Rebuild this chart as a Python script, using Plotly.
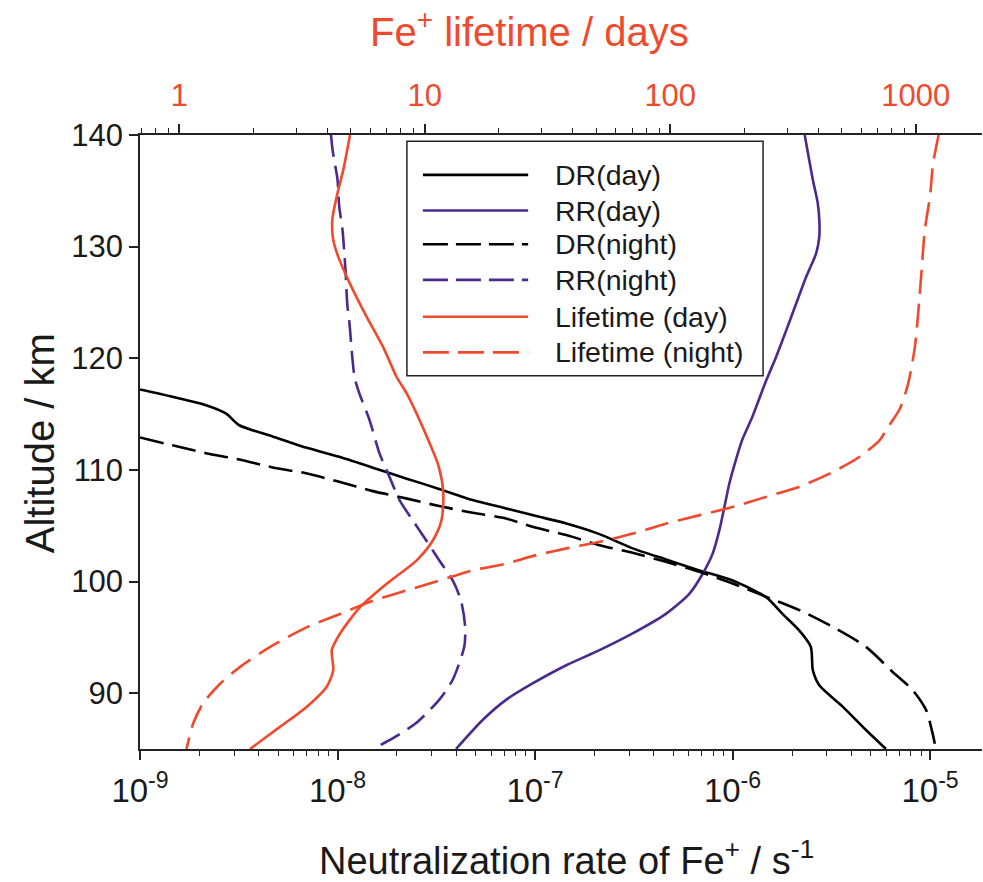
import plotly.graph_objects as go

# ---------------- data ----------------
dr_day_alt = [117.2, 116.55, 115.8, 115.06, 114.0, 113.0, 112.0, 111.17, 110.2, 109.24, 108.3, 107.3,
              106.55, 105.8, 105.2, 104.25, 102.97, 101.98, 101.0, 100.1, 98.6, 97.1, 95.6, 94.15,
              92.06, 90.7, 88.8, 86.7, 85.0]
dr_day = [1.0e-9, 1.46e-9, 2.16e-9, 2.72e-9, 3.18e-9, 4.69e-9, 6.93e-9, 1.02e-8, 1.51e-8, 2.22e-8,
          3.27e-8, 4.83e-8, 7.13e-8, 1.05e-7, 1.44e-7, 2.12e-7, 3.12e-7, 4.60e-7, 6.79e-7, 1.0e-6,
          1.48e-6, 1.79e-6, 2.18e-6, 2.49e-6, 2.55e-6, 2.75e-6, 3.61e-6, 4.74e-6, 5.98e-6]

rr_day_alt = [140.0, 136.0, 133.9, 132.4, 130.9, 129.4, 127.3, 124.9, 122.5, 120.1, 118.0, 114.76,
              112.7, 110.9, 108.8, 106.7, 104.6, 102.5, 100.7, 98.9, 97.1, 95.35, 93.85, 92.5, 90.87,
              89.4, 87.6, 85.0]
rr_day = [2.32e-6, 2.55e-6, 2.70e-6, 2.75e-6, 2.75e-6, 2.65e-6, 2.36e-6, 2.10e-6, 1.87e-6, 1.66e-6,
          1.48e-6, 1.26e-6, 1.12e-6, 1.04e-6, 9.64e-7, 9.10e-7, 8.58e-7, 7.93e-7, 7.06e-7, 6.04e-7,
          4.60e-7, 3.12e-7, 2.12e-7, 1.44e-7, 9.72e-8, 7.13e-8, 5.43e-8, 3.98e-8]

dr_night_alt = [112.9, 112.2, 111.5, 110.94, 110.22, 109.7, 108.93, 108.1, 107.45, 106.76, 106.16,
                105.65, 104.9, 104.16, 103.26, 102.57, 101.77, 100.87, 99.83, 98.63, 97.44, 95.94,
                94.15, 91.9, 90.27, 88.48, 86.4, 85.0]
dr_night = [1.0e-9, 1.46e-9, 2.16e-9, 3.18e-9, 4.69e-9, 6.93e-9, 1.02e-8, 1.51e-8, 2.22e-8, 3.27e-8,
            4.83e-8, 7.13e-8, 9.72e-8, 1.44e-7, 2.12e-7, 3.12e-7, 4.60e-7, 6.79e-7, 1.0e-6, 1.48e-6,
            2.18e-6, 3.21e-6, 4.74e-6, 6.47e-6, 8.17e-6, 9.55e-6, 1.03e-5, 1.07e-5]

rr_night_alt = [140.0, 138.66, 136.0, 133.6, 131.5, 129.7, 127.6, 124.9, 123.1, 120.7, 118.3, 116.85,
                114.5, 111.5, 109.4, 107.3, 105.5, 103.7, 101.9, 100.1, 98.3, 95.9, 94.15, 91.2, 89.4,
                87.3, 85.95, 85.0]
rr_night = [9.27e-9, 9.44e-9, 1.0e-8, 1.02e-8, 1.06e-8, 1.08e-8, 1.10e-8, 1.12e-8, 1.15e-8, 1.18e-8,
            1.22e-8, 1.29e-8, 1.45e-8, 1.63e-8, 1.83e-8, 2.06e-8, 2.40e-8, 2.81e-8, 3.27e-8, 3.83e-8,
            4.22e-8, 4.43e-8, 4.38e-8, 3.83e-8, 3.27e-8, 2.49e-8, 1.90e-8, 1.51e-8]

life_day_alt = [140.0, 136.9, 134.5, 132.4, 130.6, 129.1, 127.0, 123.7, 121.0, 118.3, 116.85, 112.97,
                110.3, 107.9, 105.5, 103.7, 101.9, 99.8, 97.7, 95.35, 93.85, 92.06, 90.56, 88.77,
                86.98, 85.0]
life_day = [4.96, 4.66, 4.38, 4.20, 4.24, 4.44, 4.88, 5.80, 6.77, 7.69, 8.44, 10.2, 11.4, 11.9, 11.7,
            10.8, 9.27, 7.0, 5.45, 4.52, 4.18, 4.24, 3.98, 3.30, 2.57, 1.94]

life_night_alt = [140.0, 137.5, 134.5, 131.5, 127.9, 124.0, 121.0, 117.75, 115.5, 113.86, 112.7, 111.2,
                  109.83, 108.5, 107.6, 106.7, 105.95, 105.2, 104.3, 103.56, 102.97, 102.3, 101.6,
                  101.0, 100.1, 99.2, 98.3, 97.1, 95.9, 94.3, 92.36, 90.87, 89.1, 87.3, 85.0]
life_night = [1240, 1178, 1143, 1089, 1057, 1023, 992, 932, 863, 773, 715, 593, 461, 337, 247, 181,
              132, 96.6, 70.6, 51.7, 37.8, 27.7, 21.5, 15.7, 11.5, 8.44, 6.17, 4.52, 3.30, 2.41,
              1.77, 1.47, 1.25, 1.14, 1.07]

rate_ticks = [1e-9, 1e-8, 1e-7, 1e-6, 1e-5]
rate_ticktext = ["10<sup>-9</sup>", "10<sup>-8</sup>", "10<sup>-7</sup>", "10<sup>-6</sup>", "10<sup>-5</sup>"]
life_ticks = [1, 10, 100, 1000]
life_ticktext = ["1", "10", "100", "1000"]
alt_ticks = [90, 100, 110, 120, 130, 140]

legend_names = ["DR(day)", "RR(day)", "DR(night)", "RR(night)", "Lifetime (day)", "Lifetime (night)"]

# ---------------- styles ----------------
BLACK = "#000000"
PURPLE = "#4B2A8C"
RED = "#EF4A2E"
TXT = "#1a1a1a"
FONT = "Liberation Sans, Arial, sans-serif"
W = 2.6

fig = go.Figure()

def add(x, y, color, dash, axis="x"):
    fig.add_trace(go.Scatter(x=x, y=y, mode="lines", xaxis=axis, yaxis="y",
                             line=dict(color=color, width=W, dash=dash, shape="spline", smoothing=0.7),
                             showlegend=False, hoverinfo="skip"))

add(dr_day, dr_day_alt, BLACK, "solid")
add(rr_day, rr_day_alt, PURPLE, "solid")
add(dr_night, dr_night_alt, BLACK, "24px,9px")
add(rr_night, rr_night_alt, PURPLE, "22px,9px")
add(life_day, life_day_alt, RED, "solid", "x2")
add(life_night, life_night_alt, RED, "24px,10px", "x2")

# minor tick values
rate_minor = [m * 10.0 ** e for e in range(-9, -4) for m in range(2, 10)]
life_minor = [m * 10.0 ** e for e in range(-1, 3) for m in range(2, 10)] + [0.7, 0.8, 0.9]

fig.update_layout(
    width=983, height=882,
    margin=dict(l=140, r=1, t=135, b=133, autoexpand=False),
    plot_bgcolor="white", paper_bgcolor="white",
    font=dict(family=FONT, color=TXT),
    xaxis=dict(type="log", range=[-9, -4.737], tickvals=rate_ticks, ticktext=rate_ticktext,
               ticks="outside", ticklen=9, tickwidth=1.5, tickcolor="#222", automargin=False,
               ticklabelstandoff=3,
               showline=True, linecolor="#222", linewidth=1.5, showgrid=False, zeroline=False,
               tickfont=dict(size=33, family=FONT, color=TXT),
               minor=dict(tickvals=rate_minor, ticks="outside", ticklen=5, tickwidth=1.2,
                          tickcolor="#222", showgrid=False)),
    xaxis2=dict(type="log", range=[-0.160, 3.270], overlaying="x", side="top", anchor="y",
                tickvals=life_ticks, ticktext=life_ticktext, automargin=False,
                ticks="outside", ticklen=9, tickwidth=1.5, tickcolor="#222", ticklabelstandoff=6,
                showline=True, linecolor="#222", linewidth=1.5, showgrid=False, zeroline=False,
                tickfont=dict(size=31, family=FONT, color=RED),
                minor=dict(tickvals=life_minor, ticks="outside", ticklen=5, tickwidth=1.2,
                           tickcolor="#222", showgrid=False)),
    yaxis=dict(range=[85, 140], tickvals=alt_ticks, ticks="outside", ticklen=9, tickwidth=1.5,
               tickcolor="#222", showline=True, linecolor="#222", linewidth=1.5, automargin=False,
               showgrid=False, zeroline=False,
               tickfont=dict(size=31, family=FONT, color=TXT)),
    showlegend=False,
)

# axis titles
fig.add_annotation(text="Neutralization rate of Fe<sup>+</sup> / s<sup>-1</sup>", xref="paper",
                   yref="paper", x=0.506, y=-0.1775, showarrow=False, xanchor="center",
                   yanchor="middle", font=dict(size=38, family=FONT, color=TXT))
fig.add_annotation(text="Altitude / km", xref="paper", yref="paper", x=-0.1188, y=0.498,
                   showarrow=False, textangle=-90, xanchor="center", yanchor="middle",
                   font=dict(size=40, family=FONT, color=TXT))
fig.add_annotation(text="Fe<sup>+</sup> lifetime / days", xref="paper", yref="paper",
                   x=0.463, y=1.1678, yshift=3, showarrow=False, xanchor="center", yanchor="middle",
                   font=dict(size=40, family=FONT, color=RED))

# ---------------- custom legend ----------------
fig.add_shape(type="rect", xref="paper", yref="paper", x0=0.317, x1=0.740, y0=0.608, y1=0.990,
              line=dict(color="#222", width=1.5), fillcolor="white", layer="above")
leg_colors = [BLACK, PURPLE, BLACK, PURPLE, RED, RED]
leg_dash = ["solid", "solid", "25px,8px", "25px,8px", "solid", "26px,9px"]
leg_y = [0.935, 0.877, 0.822, 0.764, 0.704, 0.646]
for name, c, d, yy in zip(legend_names, leg_colors, leg_dash, leg_y):
    fig.add_shape(type="line", xref="paper", yref="paper", x0=0.336, x1=0.461, y0=yy, y1=yy,
                  line=dict(color=c, width=W, dash=d), layer="above")
    fig.add_annotation(text=name, xref="paper", yref="paper", x=0.490, y=yy, showarrow=False,
                       xanchor="left", yanchor="middle",
                       font=dict(size=28.5, family=FONT, color=TXT))

fig.write_html("out.html", config={"displayModeBar": False},
               post_script="document.body.style.margin='0';document.body.style.overflow='hidden';")
